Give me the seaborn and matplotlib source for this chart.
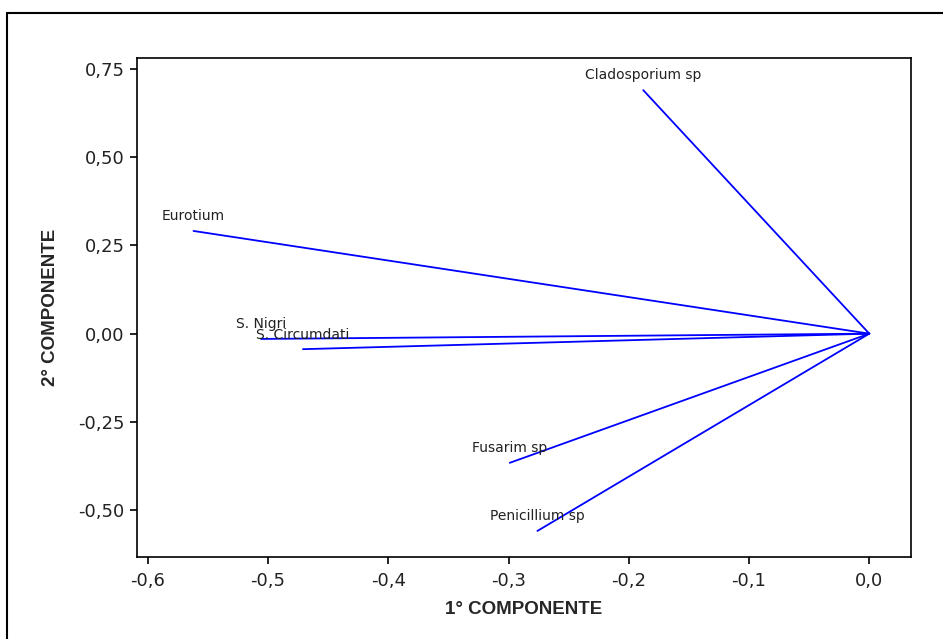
import pandas as pd
import matplotlib
matplotlib.use("Agg")
import matplotlib.pyplot as plt
from matplotlib.lines import Line2D
from matplotlib.ticker import FuncFormatter
import seaborn as sns

species = ["Cladosporium sp", "Eurotium", "S. Nigri", "S. Circumdati",
           "Fusarim sp", "Penicillium sp"]
comp1 = [-0.188, -0.562, -0.506, -0.471, -0.299, -0.276]
comp2 = [0.690, 0.291, -0.015, -0.044, -0.366, -0.559]

x_ticks = [-0.6, -0.5, -0.4, -0.3, -0.2, -0.1, 0.0]
y_ticks = [-0.50, -0.25, 0.00, 0.25, 0.50, 0.75]

# each vector goes from the origin to the loading point
rows = []
for name, a, b in zip(species, comp1, comp2):
    rows.append({"species": name, "x": 0.0, "y": 0.0})
    rows.append({"species": name, "x": a, "y": b})
df = pd.DataFrame(rows)

sns.set_style("white")
plt.rcParams["font.family"] = ["DejaVu Sans"]

fig = plt.figure(figsize=(9.43, 6.39), dpi=100)
ax = fig.add_axes([0.1453, 0.1288, 0.8204, 0.7804])

sns.lineplot(data=df, x="x", y="y", units="species", estimator=None,
             sort=False, color="#0000ff", linewidth=1.3, ax=ax)

for name, a, b in zip(species, comp1, comp2):
    ax.annotate(name, (a, b), xytext=(0, 5.5), textcoords="offset points",
                ha="center", va="bottom", fontsize=10, color="#222222")

ax.set_xlim(-0.609, 0.0344)
ax.set_ylim(-0.632, 0.781)
ax.set_xticks(x_ticks)
ax.set_yticks(y_ticks)
ax.xaxis.set_major_formatter(FuncFormatter(lambda v, p: f"{v:.1f}".replace(".", ",").replace("-0,0", "0,0")))
ax.yaxis.set_major_formatter(FuncFormatter(lambda v, p: f"{v:.2f}".replace(".", ",").replace("-0,00", "0,00")))
ax.tick_params(axis="both", direction="out", length=5, width=1.2,
               labelsize=13, color="black", labelcolor="#222222",
               bottom=True, left=True)
ax.tick_params(axis="x", pad=6)
ax.tick_params(axis="y", pad=4)

for sp in ax.spines.values():
    sp.set_color("black")
    sp.set_linewidth(1.2)

ax.set_xlabel("1° COMPONENTE", fontsize=13.5, fontweight="bold",
              family=["Liberation Sans", "DejaVu Sans"], labelpad=8)
ax.set_ylabel("2° COMPONENTE", fontsize=13.5, fontweight="bold",
              family=["Liberation Sans", "DejaVu Sans"], labelpad=14)

# outer frame, only top and left edges fall inside the picture
fig.add_artist(Line2D([7 / 943, 7 / 943], [0, 1 - 13 / 639], transform=fig.transFigure,
                      color="black", linewidth=1.5))
fig.add_artist(Line2D([7 / 943, 1], [1 - 13 / 639, 1 - 13 / 639], transform=fig.transFigure,
                      color="black", linewidth=1.5))

fig.savefig("out.png", dpi=100)
